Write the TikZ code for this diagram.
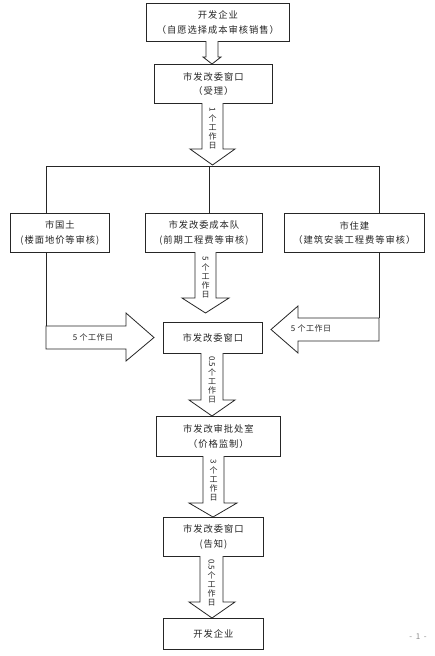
\documentclass[tikz,border=0pt]{standalone}
\usepackage{fontspec}
\setmainfont{Noto Sans CJK SC}
\newfontfamily\cjklabel[LetterSpace=10]{Noto Sans CJK SC}
\newfontfamily\cjksmall[LetterSpace=6]{Noto Sans CJK SC}
\usepackage{graphicx}
\newcommand\vdigit[1]{\rotatebox[origin=c]{-90}{#1}}
\begin{document}
\begin{tikzpicture}[x=1pt,y=-1pt,
  box/.style={draw=black!85, line width=0.8pt, anchor=north west, inner sep=0pt,
    align=center, font=\fontsize{9.3}{14.5}\cjklabel, text=black!85},
  hollow/.style={draw=black!85, line width=0.8pt, fill=white, line join=miter},
  link/.style={draw=black!85, line width=0.8pt},
  vlab/.style={anchor=north, inner sep=0pt, align=center, font=\fontsize{8}{9}\selectfont, text=black!85},
  hlab/.style={inner sep=0pt, font=\fontsize{8}{9}\cjksmall, text=black!85}]
\useasboundingbox (0,0) rectangle (434,656);
\fill[white] (0,0) rectangle (434,656);

% boxes
\node[box, minimum width=143pt, minimum height=38pt] (b1) at (146,3) {开发企业\\（自愿选择成本审核销售）};
\node[box, minimum width=118pt, minimum height=39pt] (b2) at (154,64) {市发改委窗口\\（受理）};
\node[box, minimum width=99pt, minimum height=39pt] (bl) at (10,213) {市国土\\(楼面地价等审核)};
\node[box, minimum width=117pt, minimum height=39pt] (bm) at (145,213) {市发改委成本队\\(前期工程费等审核)};
\node[box, minimum width=140pt, minimum height=39pt] (br) at (284,213) {市住建\\（建筑安装工程费等审核）};
\node[box, minimum width=99pt, minimum height=31pt] (bc) at (163,322) {市发改委窗口};
\node[box, minimum width=124pt, minimum height=40pt] (bs) at (156,416) {市发改审批处室\\（价格监制）};
\node[box, minimum width=100pt, minimum height=39pt] (bg) at (163,517) {市发改委窗口\\(告知)};
\node[box, minimum width=100pt, minimum height=31pt] (bf) at (163,618) {开发企业};

% branch lines
\coordinate (jl) at (46,166);
\coordinate (jr) at (379,166);
\coordinate (jm) at (209,166);
\draw[link] (bl.north -| jl) -- (jl) -- (jr) -- (br.north -| jr);
\draw[link] (jm) -- (bm.north -| jm);
\draw[link] (bl.south -| jl) -- (46,326);
\draw[link] (br.south -| jr) -- (379,318);

% small arrow b1 -> b2
\draw[hollow] (206,41) -- (206,57) -- (203,57) -- (212,64) -- (221,57) -- (218,57) -- (218,41);
% arrow b2 -> branch
\draw[hollow] (202,103) -- (202,149) -- (190,149) -- (212.5,165) -- (235,149) -- (223,149) -- (223,103);
\node[vlab] (t1) at (212.5,107) {\vdigit{1}\\个\\工\\作\\日};

% middle arrow bm -> bc
\draw[hollow] (195,252) -- (195,298) -- (182,298) -- (205.5,313) -- (229,298) -- (216,298) -- (216,252);
\node[vlab] (t2) at (205.5,256) {\vdigit{5}\\个\\工\\作\\日};

% left arrow
\draw[hollow] (46,326) -- (126,326) -- (126,313) -- (154,337.5) -- (126,361) -- (126,349) -- (46,349) -- cycle;
\node[hlab] (t3) at (93,337) {5 个工作日};

% right arrow
\draw[hollow] (379,318) -- (298,318) -- (298,306) -- (271,329.5) -- (298,353) -- (298,341) -- (379,341) -- cycle;
\node[hlab] (t4) at (311,328) {5 个工作日};

% bc -> bs
\draw[hollow] (201,353) -- (201,400) -- (189,400) -- (212,416) -- (235,400) -- (223,400) -- (223,353);
\node[vlab] (t5) at (212,356) {\vdigit{0.5}\\个\\工\\作\\日};

% bs -> bg
\draw[hollow] (203,456) -- (203,503) -- (189,503) -- (213,517) -- (237,503) -- (224,503) -- (224,456);
\node[vlab] (t6) at (213.5,459) {\vdigit{3}\\个\\工\\作\\日};

% bg -> bf
\draw[hollow] (200,556) -- (200,602) -- (189,602) -- (212,618) -- (235,602) -- (223,602) -- (223,556);
\node[vlab] (t7) at (211.5,559) {\vdigit{0.5}\\个\\工\\作\\日};

% page number
\node[inner sep=0pt, font=\fontsize{8}{9}\selectfont, text=black!45] (pg) at (418,637) {-\ \ 1\ \ -};
\end{tikzpicture}
\end{document}
